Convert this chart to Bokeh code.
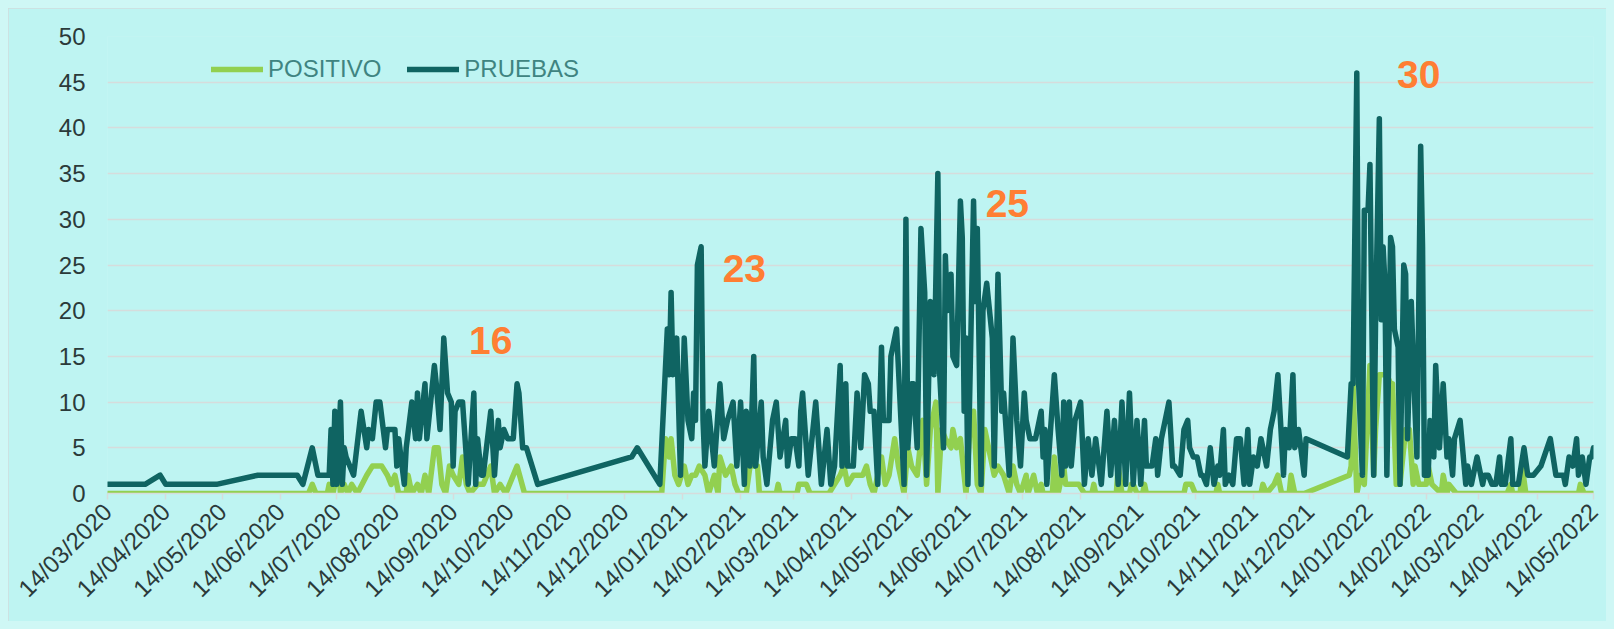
from datetime import datetime, timedelta
from math import pi

from bokeh.plotting import figure
from bokeh.models import (Range1d, FixedTicker, SingleIntervalTicker, DatetimeTickFormatter,
                          Legend, LegendItem, ColumnDataSource)
from bokeh.core.properties import value
from bokeh.embed import file_html
from bokeh.resources import INLINE

# ---------------- data ----------------
inicio = datetime(2020, 3, 14)
fin = datetime(2022, 5, 14)

# PRUEBAS: days since 14/03/2020 and values
dias_pruebas = [
    0, 20, 28, 31, 58, 80, 101, 104, 109, 112, 118,
    119, 120, 121, 122, 124, 125, 126, 127, 131, 135, 138, 139, 141, 143, 145, 148, 149, 153, 154, 155,
    158, 159, 162, 164, 165, 166, 169, 170, 171, 174, 175, 177, 179, 181, 183, 184, 185, 187, 189, 192,
    195, 196, 197, 199, 200, 204, 206, 208, 209, 211, 213, 216, 218, 219, 221, 223, 229,
    279, 282, 294, 298, 299, 300, 301, 303, 305, 307, 309, 311, 312, 313, 314, 316, 317, 318, 320, 323,
    326, 328, 330, 333, 335, 337, 339, 340, 342, 344, 345, 348, 349, 351, 354, 356, 358, 361, 362, 364,
    366, 368, 369, 370, 373, 377, 380, 383, 385, 387, 390, 391, 393, 394, 397, 399, 401, 403, 405, 406,
    408, 410, 412, 413, 416, 417, 420, 424, 425, 426, 428, 429, 431, 433, 435, 436, 438, 440, 442, 443,
    445, 446, 447, 449, 450, 452, 454, 455, 456, 457, 458, 461, 462, 463, 465, 466, 468, 471, 472, 474,
    476, 477, 480, 482, 484, 486, 488, 489, 491, 494, 497, 498, 499, 500, 504, 506, 508, 509, 510, 512,
    513, 515, 518, 520, 522, 524, 526, 529, 532, 534, 536, 538, 540, 542, 544, 546, 548, 550, 552, 553,
    556, 558, 559, 561, 565, 567, 568, 571, 573, 575, 576, 578, 580, 582, 583, 585, 587, 589, 591, 592,
    594, 595, 597, 599, 601, 603, 605, 607, 608, 610, 612, 614, 617, 619, 621, 623, 626, 627, 629, 631,
    632, 634, 637, 638, 660, 662, 663, 665, 666, 668, 669, 671, 672, 674, 675, 677, 678, 679, 680, 681,
    683, 684, 685, 687, 688, 690, 691, 692, 694, 696, 697, 699, 700, 701, 703, 704, 706, 707, 709, 711,
    713, 714, 716, 717, 720, 723, 724, 726, 729, 731, 732, 733, 735, 737, 739, 741, 742, 744, 747, 748,
    751, 754, 756, 759, 763, 768, 771, 775, 776, 778, 780, 782, 783, 785, 787, 789, 790, 791,
]
pruebas = [
    1, 1, 2, 1, 1, 2, 2, 1, 5, 2, 2,
    7, 1, 9, 1, 10, 1, 5, 4, 2, 9, 5, 7, 6, 10, 10, 5, 7, 7, 3, 6,
    1, 5, 10, 6, 11, 6, 12, 6, 8, 14, 12, 7, 17, 11, 10, 3, 9, 10, 10, 1,
    11, 1, 6, 2, 2, 9, 2, 8, 5, 7, 6, 6, 12, 11, 5, 5, 1,
    4, 5, 1, 18, 13, 22, 13, 17, 2, 17, 8, 6, 11, 8, 25, 27, 8, 3, 9, 3,
    12, 6, 8, 10, 3, 10, 1, 9, 3, 15, 3, 10, 4, 1, 8, 10, 4, 8, 3, 6,
    6, 3, 9, 11, 2, 10, 1, 7, 1, 3, 14, 3, 12, 3, 3, 11, 5, 13, 12, 9,
    9, 1, 16, 8, 8, 15, 18, 1, 30, 5, 12, 12, 5, 29, 22, 2, 21, 13, 35, 13,
    5, 26, 20, 24, 15, 14, 32, 28, 9, 17, 1, 32, 21, 29, 1, 20, 23, 17, 3, 24,
    9, 11, 2, 17, 8, 3, 11, 8, 6, 6, 9, 4, 7, 1, 13, 7, 2, 10, 3, 10,
    3, 8, 10, 1, 6, 2, 6, 1, 9, 2, 8, 1, 10, 1, 11, 1, 8, 1, 8, 3,
    3, 6, 2, 6, 10, 3, 3, 2, 7, 8, 5, 4, 4, 2, 2, 1, 5, 1, 3, 2,
    7, 1, 2, 1, 6, 6, 1, 7, 1, 4, 3, 6, 3, 7, 9, 13, 2, 7, 5, 13,
    5, 7, 2, 6, 4, 12, 12, 46, 12, 2, 31, 31, 36, 2, 19, 41, 19, 27, 23, 2,
    28, 27, 18, 16, 1, 25, 24, 6, 21, 9, 4, 38, 27, 2, 2, 8, 4, 14, 5, 12,
    4, 6, 2, 6, 8, 1, 3, 1, 4, 2, 1, 2, 2, 1, 1, 4, 1, 1, 6, 1,
    1, 5, 2, 2, 3, 6, 2, 2, 1, 4, 3, 6, 2, 4, 1, 4, 4, 5,
]

# POSITIVO: days since 14/03/2020 and values
dias_positivo = [
    0, 107, 109, 111, 117, 118, 120, 123, 124, 126, 128, 130, 133, 138, 141, 143, 146, 149, 151, 153,
    155, 159, 160, 162, 165, 167, 169, 171, 174, 176, 178, 180, 182, 184, 187, 189, 191, 193, 197, 200,
    204, 206, 209, 212, 218, 222,
    295, 297, 299, 300, 302, 304, 307, 309, 311, 313, 315, 318, 320, 323, 325, 326, 329, 332, 334, 336,
    340, 342, 344, 346, 347, 356, 357, 358, 367, 368, 372, 374, 384, 387, 390, 392, 394, 397, 399, 402,
    404, 406, 408, 410, 412, 414, 416, 419, 421, 424, 426, 428, 431, 434, 436, 438, 441, 442, 444, 446,
    449, 450, 452, 454, 457, 459, 461, 463, 465, 467, 469, 472, 474, 477, 480, 482, 484, 486, 489, 490,
    493, 495, 497, 498, 503, 504, 506, 509, 510, 517, 520, 524, 525, 526, 537, 538, 540, 544, 545, 546,
    548, 551, 552, 553, 573, 574, 577, 579, 590, 591, 592, 614, 615, 617, 621, 623, 625, 629, 630, 632,
    637, 661, 662, 663, 665, 667, 669, 672, 674, 675, 677, 679, 681, 683, 684, 686, 688, 691, 693, 695,
    696, 698, 700, 702, 703, 705, 710, 711, 713, 714, 718, 745, 747, 748, 752, 753, 755, 783, 784, 786,
    791,
]
positivo = [
    0, 0, 1, 0, 0, 1, 0, 3, 0, 1, 0, 1, 0, 2, 3, 3, 3, 2, 1, 2,
    0, 0, 2, 0, 1, 0, 2, 0, 5, 5, 1, 0, 3, 2, 1, 4, 1, 0, 1, 1,
    3, 0, 1, 0, 3, 0,
    0, 6, 4, 6, 2, 1, 3, 1, 2, 2, 3, 2, 0, 2, 0, 4, 2, 3, 1, 0,
    0, 3, 3, 3, 0, 0, 1, 0, 0, 1, 1, 0, 0, 1, 2, 3, 1, 2, 2, 2,
    3, 1, 0, 2, 4, 1, 2, 6, 3, 0, 5, 3, 2, 8, 1, 7, 10, 0, 7, 6,
    5, 7, 5, 6, 0, 7, 9, 1, 0, 7, 5, 2, 3, 2, 0, 3, 1, 0, 2, 0,
    2, 0, 1, 0, 0, 4, 0, 3, 1, 1, 0, 0, 1, 0, 0, 3, 0, 0, 1, 1,
    0, 0, 1, 0, 0, 1, 1, 0, 0, 1, 0, 0, 1, 0, 1, 2, 0, 0, 2, 0,
    0, 2, 3, 12, 0, 2, 1, 14, 2, 7, 13, 13, 13, 12, 12, 1, 1, 7, 7, 1,
    3, 1, 1, 1, 3, 1, 0, 2, 0, 1, 0, 0, 1, 0, 0, 3, 0, 0, 1, 0,
    0,
]

# Tick labels of the date axis
etiquetas_x = [
    "14/03/2020", "14/04/2020", "14/05/2020", "14/06/2020", "14/07/2020", "14/08/2020",
    "14/09/2020", "14/10/2020", "14/11/2020", "14/12/2020", "14/01/2021", "14/02/2021",
    "14/03/2021", "14/04/2021", "14/05/2021", "14/06/2021", "14/07/2021", "14/08/2021",
    "14/09/2021", "14/10/2021", "14/11/2021", "14/12/2021", "14/01/2022", "14/02/2022",
    "14/03/2022", "14/04/2022", "14/05/2022",
]

# Orange annotations
anot_texto = ["16", "23", "25", "30"]
anot_fecha = ["2020-10-04", "2021-02-16", "2021-07-06", "2022-02-10"]
anot_valor = [16.7, 24.6, 31.7, 45.8]

# ---------------- figure ----------------
BG = "#BEF4F2"
GRID = "#D6DCDC"
FONT = "Liberation Sans"

x_pru = [inicio + timedelta(days=d) for d in dias_pruebas]
x_pos = [inicio + timedelta(days=d) for d in dias_positivo]
tick_ms = [(datetime.strptime(s, "%d/%m/%Y") - datetime(1970, 1, 1)).total_seconds() * 1000
           for s in etiquetas_x]

p = figure(width=1598, height=613, x_axis_type="datetime",
           x_range=Range1d(inicio, fin), y_range=Range1d(0, 50),
           output_backend="svg", toolbar_location=None,
           min_border_left=99, min_border_right=13, min_border_top=28, min_border_bottom=128)
p.background_fill_color = BG
p.border_fill_color = BG
p.outline_line_color = None

# axes
p.xaxis.ticker = FixedTicker(ticks=tick_ms)
fmt = "%d/%m/%Y"
p.xaxis.formatter = DatetimeTickFormatter(milliseconds=fmt, seconds=fmt, minsec=fmt, minutes=fmt,
                                          hourmin=fmt, hours=fmt, days=fmt, months=fmt, years=fmt)
p.xaxis.major_label_orientation = pi / 4
p.xaxis.major_label_text_font = FONT
p.xaxis.major_label_text_font_size = "24px"
p.xaxis.major_label_text_color = "#2B3A3A"
p.xaxis.axis_line_color = GRID
p.xaxis.axis_line_width = 1.5
p.xaxis.major_tick_line_color = GRID
p.xaxis.major_tick_line_width = 1.5
p.xaxis.major_tick_in = 0
p.xaxis.major_tick_out = 6
p.xaxis.minor_tick_line_color = None
p.xaxis.major_label_standoff = 8

p.yaxis.ticker = SingleIntervalTicker(interval=5)
p.yaxis.major_label_text_font = FONT
p.yaxis.major_label_text_font_size = "24px"
p.yaxis.major_label_text_color = "#2B3A3A"
p.yaxis.axis_line_color = None
p.yaxis.major_tick_line_color = None
p.yaxis.minor_tick_line_color = None
p.yaxis.major_label_standoff = 16

p.xgrid.grid_line_color = None
p.ygrid.grid_line_color = GRID
p.ygrid.grid_line_width = 1.5

# series
r_pos = p.line(x_pos, positivo, line_color="#92D050", line_width=5.5,
               line_join="round", line_cap="round")
r_pru = p.line(x_pru, pruebas, line_color="#0F6462", line_width=5.5,
               line_join="round", line_cap="round")

# annotations
src_anot = ColumnDataSource(dict(x=[datetime.strptime(s, "%Y-%m-%d") for s in anot_fecha],
                                 y=anot_valor, t=anot_texto))
p.text(x="x", y="y", text="t", source=src_anot, text_color="#FF7E33",
       text_font=value(FONT), text_font_style="bold", text_font_size="39px",
       text_align="center", text_baseline="middle")

# legend
legend = Legend(items=[LegendItem(label="POSITIVO", renderers=[r_pos]),
                       LegendItem(label="PRUEBAS", renderers=[r_pru])],
                orientation="horizontal", location=(104, 410))
legend.background_fill_alpha = 0
legend.border_line_color = None
legend.label_text_font = FONT
legend.label_text_font_size = "24px"
legend.label_text_color = "#3F8481"
legend.glyph_width = 52
legend.glyph_height = 26
legend.label_height = 26
legend.label_standoff = 5
legend.spacing = 26
legend.padding = 0
legend.margin = 0
p.add_layout(legend)

p.styles = {"outline": "1.5px solid #D0DCDC", "outline-offset": "-1.5px"}

template = """{% block postamble %}<style>html,body{height:auto !important;}
body{margin:8px !important;background:#CFF7F5 !important;}</style>{% endblock %}"""
open("out.html", "w").write(file_html(p, INLINE, template=template))
